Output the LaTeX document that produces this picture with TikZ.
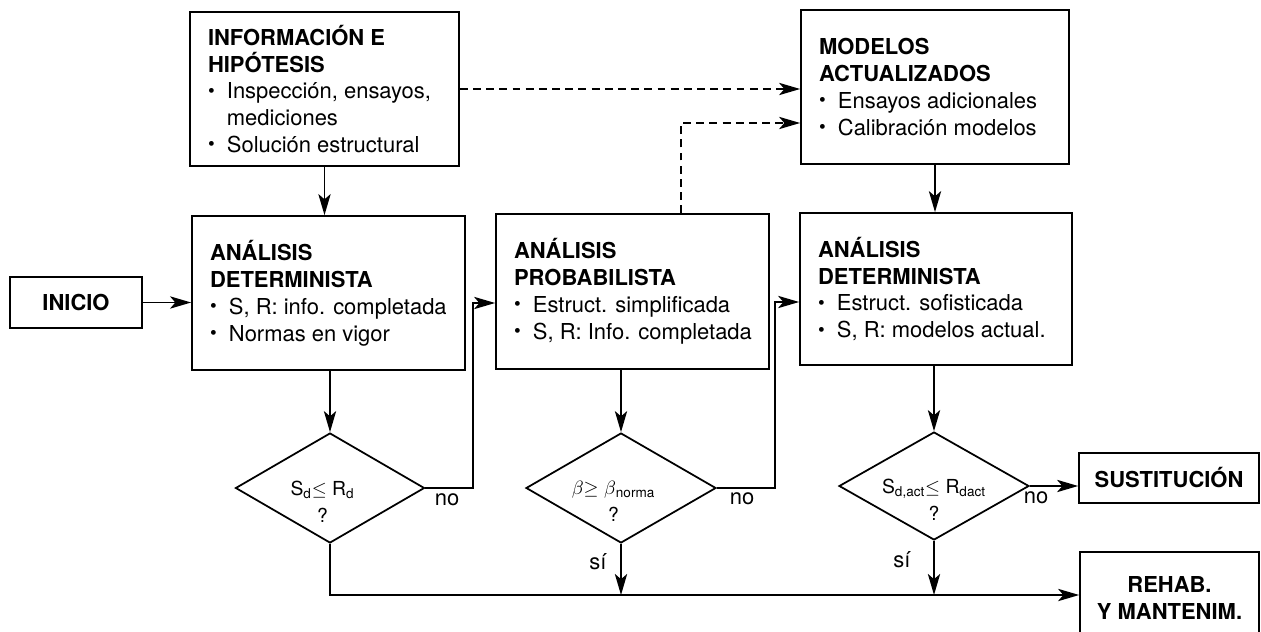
\documentclass[tikz,border=0pt]{standalone}
\usepackage{fontspec}
\setmainfont{TeX Gyre Heros}
\usetikzlibrary{calc}
\usetikzlibrary{positioning}
\usetikzlibrary{arrows.meta}
\usetikzlibrary{shapes.geometric}

\begin{document}
\begin{tikzpicture}[x=0.02cm, y=-0.02cm]

		\useasboundingbox (0,0) rectangle (1261,632);

		% --- bullet item, kept on one line; \bulnext continues it ---
		\newcommand{\bul}[1]{\par\noindent\makebox[0.86em][l]{\raisebox{0.5ex}{$\scriptscriptstyle\bullet$}}\mbox{#1}}
		\newcommand{\bulnext}[1]{\par\noindent\hspace*{0.86em}\mbox{#1}}

		\tikzset{
			txt/.style={font=\fontsize{12.5}{15.3}\selectfont, inner sep=0pt},
			infobox/.style={draw, line width=1pt, align=flush left, font=\fontsize{12.5}{15.3}\selectfont, inner xsep=0.36cm, inner ysep=0pt},
			endbox/.style={draw, line width=1pt, align=center, font=\fontsize{12.5}{15.3}\selectfont\bfseries, inner sep=0pt},
			decision/.style={draw, diamond, line width=1pt, inner sep=0pt, minimum width=3.8cm, minimum height=2.2cm},
			dtxt/.style={font=\fontsize{11}{15.3}\selectfont, align=center, inner sep=0pt},
			flow/.style={-{Stealth[length=12pt, width=7pt, inset=3pt]}, line width=1pt},
			dflow/.style={flow, dash pattern=on 4.5pt off 3pt}
		}

		% Boxes
		\node[endbox, minimum width=2.64cm, minimum height=1.02cm] (inicio) at (76,302.5) {INICIO};

		\node[infobox, text width=4.66cm, minimum height=3.08cm] (info) at (324.5,89)
			{\textbf{INFORMACIÓN E}\par\textbf{HIPÓTESIS}\bul{Inspección, ensayos,}\bulnext{mediciones}\bul{Solución estructural}};

		\node[infobox, text width=4.74cm, minimum height=3.08cm] (ad1) at (328.5,293)
			{\textbf{ANÁLISIS}\par\textbf{DETERMINISTA}\bul{S, R: info. completada}\bul{Normas en vigor}};

		\node[infobox, text width=4.74cm, minimum height=3.1cm] (ap) at (632.5,291.5)
			{\textbf{ANÁLISIS}\par\textbf{PROBABILISTA}\bul{Estruct. simplificada}\bul{S, R: Info. completada}};

		\node[infobox, text width=4.64cm, minimum height=3.08cm] (mod) at (935,87)
			{\textbf{MODELOS}\par\textbf{ACTUALIZADOS}\bul{Ensayos adicionales}\bul{Calibración modelos}};

		\node[infobox, text width=4.72cm, minimum height=3.04cm] (ad2) at (936,289)
			{\textbf{ANÁLISIS}\par\textbf{DETERMINISTA}\bul{Estruct. sofisticada}\bul{S, R: modelos actual.}};

		\node[endbox, minimum width=3.6cm, minimum height=1.0cm] (sust) at (1169,478) {SUSTITUCIÓN};
		\node[endbox, minimum width=3.58cm, minimum height=1.84cm] (rehab) at (1169.5,598) {REHAB.\\Y MANTENIM.};

		% Decisions
		\node[decision, minimum width=3.78cm] (d1) at (330,488) {};
		\node[decision] (d2) at (621,488) {};
		\node[decision, minimum height=2.16cm] (d3) at (934,486) {};

		\node[dtxt] (d1t) at ([xshift=-0.15cm, yshift=-0.27cm]d1.center) {S\textsubscript{d}$\le$\ R\textsubscript{d}\\?};
		\node[dtxt] (d2t) at ([xshift=-0.15cm, yshift=-0.27cm]d2.center) {$\beta${}$\ge$\ $\beta$\textsubscript{norma}\\?};
		\node[dtxt] (d3t) at ([yshift=-0.27cm]d3.center) {S\textsubscript{d,act}$\le$\ R\textsubscript{dact}\\?};

		% Bend points
		\coordinate (k1) at (473,303);
		\coordinate (k2) at (775,302);
		\coordinate (k4) at (681,123);

		% Connectors
		\draw[flow] (inicio.east) -- (inicio.east -| ad1.west);
		\draw[flow] (info.south) -- (info.south |- ad1.north);
		\draw[flow] (d1.north |- ad1.south) -- (d1.north);
		\draw[flow] (d1.east) -| (k1) -- (k1 -| ap.west);
		\draw[flow] (d2.north |- ap.south) -- (d2.north);
		\draw[flow] (d2.east) -| (k2) -- (k2 -| ad2.west);
		\draw[flow] (mod.south) -- (mod.south |- ad2.north);
		\draw[flow] (d3.north |- ad2.south) -- (d3.north);
		\draw[flow] (d3.east) -- (d3.east -| sust.west);
		\draw[flow] (d1.south) |- (d1.south |- 0,595) -- (rehab.west |- 0,595);
		\draw[flow] (d2.south) -- (d2.south |- 0,595);
		\draw[flow] (d3.south) -- (d3.south |- 0,595);

		% Dashed feedback
		\draw[dflow] (info.east) -- (info.east -| mod.west);
		\draw[dflow] (k4 |- ap.north) |- (mod.west |- k4);

		% Labels
		\node[txt] (no1) at (447,500) {no};
		\node[txt] (no2) at (742,499) {no};
		\node[txt] (no3) at (1036,498) {no};
		\node[txt] (si2) at (598,562) {sí};
		\node[txt] (si3) at (902,560) {sí};

\end{tikzpicture}
\end{document}
